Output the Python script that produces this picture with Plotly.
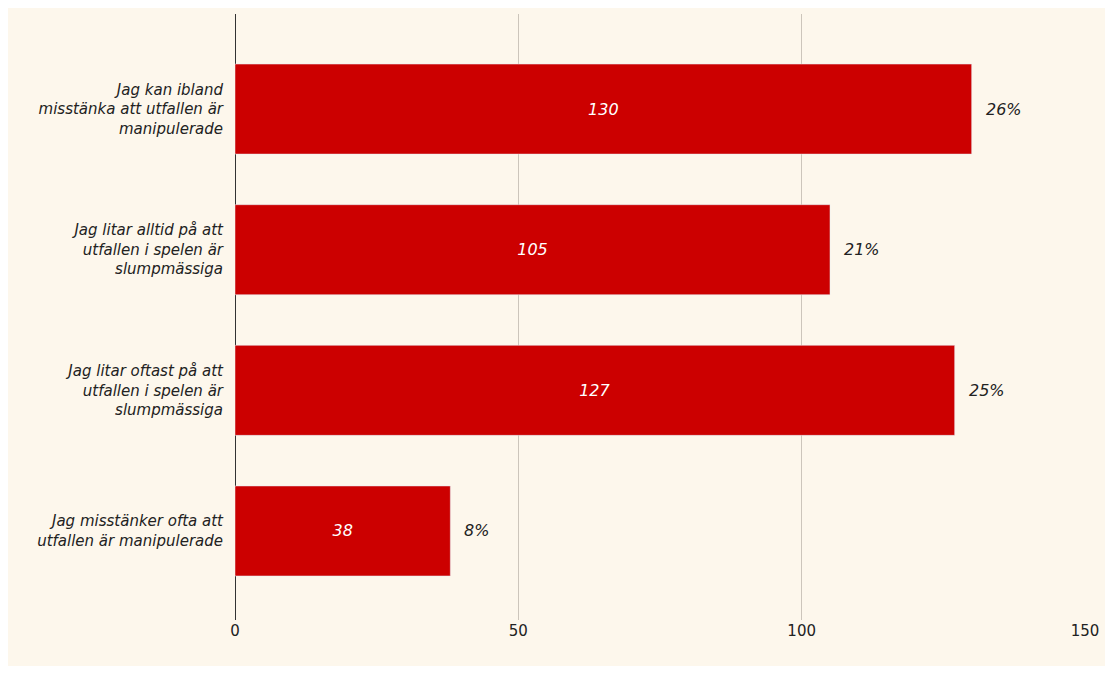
import plotly.graph_objects as go

categories = ["Jag kan ibland<br>misstänka att utfallen är<br>manipulerade",
              "Jag litar alltid på att<br>utfallen i spelen är<br>slumpmässiga",
              "Jag litar oftast på att<br>utfallen i spelen är<br>slumpmässiga",
              "Jag misstänker ofta att<br>utfallen är manipulerade"]
values = [130, 105, 127, 38]
percents = ["26%", "21%", "25%", "8%"]

ypos = [3, 2, 1, 0]
fig = go.Figure(go.Bar(
    x=values, y=ypos, orientation="h", width=0.64,
    marker_color="#cc0000",
    text=[str(v) for v in values], textposition="inside", insidetextanchor="middle",
    textfont=dict(color="white", size=16, family="DejaVu Sans"),
    hoverinfo="skip"))
for v, p, y in zip(values, percents, ypos):
    fig.add_annotation(x=v, y=y, text=f"<i>{p}</i>", showarrow=False,
                       xanchor="left", xshift=12,
                       font=dict(size=16, color="#222", family="DejaVu Sans"))
fig.update_traces(texttemplate="<i>%{text}</i>")
fig.update_layout(
    width=1097, height=658, paper_bgcolor="#fdf7ec", plot_bgcolor="#fdf7ec",
    margin=dict(l=227, r=15, t=6, b=46), showlegend=False,
    font=dict(family="DejaVu Sans", size=14, color="#222"),
    xaxis=dict(range=[0, 150], tickvals=[0, 50, 100, 150], showgrid=True,
               gridcolor="#ccc5bb", zeroline=True, zerolinecolor="#333", zerolinewidth=1,
               tickfont=dict(size=15)),
    yaxis=dict(range=[-0.633, 3.676], tickvals=ypos,
               ticktext=[f"<i>{c}</i>" for c in categories],
               ticks="outside", ticklen=8, tickcolor="#fdf7ec",
               showgrid=False, zeroline=False, tickfont=dict(size=15)),
)
fig.write_html("out.html")
